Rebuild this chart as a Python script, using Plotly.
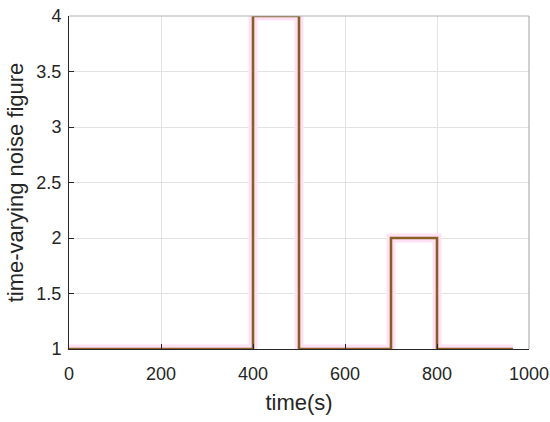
import plotly.graph_objects as go

# step function data
time_s = [0, 400, 400, 500, 500, 700, 700, 800, 800, 965]
noise_fig = [1, 1, 4, 4, 1, 1, 2, 2, 1, 1]
x_ticks = [0, 200, 400, 600, 800, 1000]
y_ticks = [1, 1.5, 2, 2.5, 3, 3.5, 4]

fig = go.Figure()
fig.add_trace(go.Scatter(x=time_s, y=noise_fig, mode="lines",
                         line=dict(color="#ffe2f4", width=9), hoverinfo="skip"))
fig.add_trace(go.Scatter(x=time_s, y=noise_fig, mode="lines",
                         line=dict(color="#8b5e26", width=2.6)))

font = "Liberation Sans, Arial, sans-serif"
fig.update_layout(
    width=550, height=422,
    margin=dict(l=69, r=21, t=16, b=73),
    paper_bgcolor="white", plot_bgcolor="white",
    showlegend=False,
    font=dict(family=font, size=18, color="#262626"),
    xaxis=dict(range=[0, 1000], tickvals=x_ticks, showgrid=True, gridcolor="#e3e3e3",
               gridwidth=1, zeroline=False, showline=True, linecolor="#262626", linewidth=1,
               ticks="inside", ticklen=5, tickcolor="#262626", automargin=False,
               ticklabelstandoff=8,
               title=dict(text="time(s)", font=dict(size=22), standoff=12),
               tickfont=dict(size=18)),
    yaxis=dict(range=[1, 4], tickvals=y_ticks, showgrid=True, gridcolor="#e3e3e3",
               gridwidth=1, zeroline=False, showline=True, linecolor="#262626", linewidth=1,
               ticks="inside", ticklen=5, tickcolor="#262626", automargin=False,
               ticklabelstandoff=3,
               title=dict(text="time-varying noise figure", font=dict(size=22), standoff=6),
               tickfont=dict(size=18)),
)
# lighter box on top/right
fig.add_shape(type="line", xref="paper", yref="paper", x0=0, x1=1, y0=1, y1=1,
              line=dict(color="#b0b0b0", width=1))
fig.add_shape(type="line", xref="paper", yref="paper", x0=1, x1=1, y0=0, y1=1,
              line=dict(color="#a0a0a0", width=1))
fig.write_html("out.html", config={"displayModeBar": False},
               post_script="document.body.style.margin='0';")
